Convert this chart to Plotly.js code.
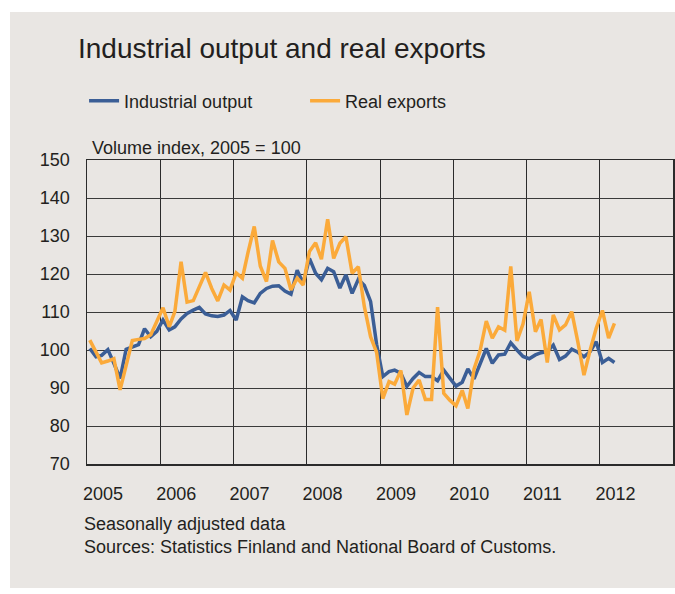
<!DOCTYPE html>
<html>
<head>
<meta charset="utf-8">
<script src="https://cdn.plot.ly/plotly-3.0.1.min.js"></script>
<style>
  html, body { margin: 0; padding: 0; background: #ffffff; }
  #chart { width: 675px; height: 594px; }
</style>
</head>
<body>
<div id="chart"></div>
<script>
// Monthly data, Jan 2005 – Mar 2012 (volume index, 2005 = 100)
const startYear = 2005;
const industrialOutput = [
  100.4, 98.2, 98.6, 100.1, 96.5, 92.5, 100.2, 100.9, 101.4, 105.6, 103.5, 104.9,
  107.9, 105.3, 106.1, 108.2, 109.6, 110.5, 111.2, 109.5, 109.0, 108.8, 109.2, 110.4,
  107.9, 114.0, 113.0, 112.4, 114.9, 116.2, 116.8, 116.9, 115.5, 114.7, 121.0, 117.6,
  124.1, 120.2, 118.5, 121.5, 120.6, 116.3, 119.8, 114.9, 118.6, 117.0, 112.8, 101.5,
  93.0, 94.3, 94.7, 93.9, 90.4, 92.5, 94.1, 93.0, 93.0, 91.9, 94.7, 92.6,
  90.5, 91.5, 95.0, 92.4, 96.5, 100.4, 96.5, 98.7, 98.9, 101.9, 100.0, 98.3,
  97.7, 98.7, 99.3, 99.6, 101.3, 97.5, 98.4, 100.2, 99.4, 98.2, 99.6, 102.2,
  96.7, 97.8, 96.7
];
const realExports = [
  102.6, 99.2, 96.6, 97.1, 97.7, 89.5, 96.0, 102.5, 102.8, 103.0, 104.0, 107.4,
  111.1, 106.1, 110.1, 123.2, 112.6, 113.0, 116.8, 120.4, 116.2, 112.9, 117.1, 115.8,
  120.3, 118.9, 125.7, 132.5, 122.1, 118.0, 128.8, 123.2, 121.5, 115.8, 118.9, 117.1,
  125.9, 128.2, 123.9, 134.4, 124.1, 128.1, 129.8, 120.2, 121.9, 111.4, 103.5, 99.4,
  87.2, 91.7, 91.0, 94.6, 82.9, 90.0, 92.1, 87.0, 87.0, 111.3, 88.6, 86.8,
  85.3, 89.4, 84.6, 95.0, 99.8, 107.6, 103.1, 106.1, 105.2, 122.0, 102.4, 106.8,
  115.3, 104.8, 108.0, 96.7, 109.2, 105.3, 106.6, 110.1, 102.0, 93.4, 100.0, 105.7,
  110.4, 103.1, 107.0
];
const yearTicks = ['2005', '2006', '2007', '2008', '2009', '2010', '2011', '2012'];
const yTicks = [70, 80, 90, 100, 110, 120, 130, 140, 150];

// mid-month dates for each observation
const months = industrialOutput.map((_, i) => {
  const y = startYear + Math.floor(i / 12);
  const m = (i % 12) + 1;
  return y + '-' + (m < 10 ? '0' + m : m) + '-15';
});

const FONT = 'Liberation Sans, Arial, sans-serif';
const TXT = '#231f20';
const BG = '#e9e6e3';

const traces = [
  { x: months, y: industrialOutput, type: 'scatter', mode: 'lines', name: 'Industrial output',
    line: { color: '#3b5e96', width: 3.5 } },
  { x: months, y: realExports, type: 'scatter', mode: 'lines', name: 'Real exports',
    line: { color: '#fbaa3a', width: 3.5 } }
];

const layout = {
  width: 675, height: 594,
  margin: { l: 87, r: 2, t: 160, b: 130 },
  paper_bgcolor: '#ffffff',
  plot_bgcolor: BG,
  font: { family: FONT, size: 18, color: TXT },
  title: { text: 'Industrial output and real exports', x: 78 / 675, xanchor: 'left', xref: 'container',
           y: 1 - 48 / 594, yanchor: 'middle', yref: 'container',
           font: { family: FONT, size: 28, color: TXT } },
  showlegend: true,
  legend: { orientation: 'h', x: -0.005, xanchor: 'left', y: 1.255, yanchor: 'top',
            bgcolor: 'rgba(0,0,0,0)', font: { size: 18, color: TXT },
            entrywidth: 176, entrywidthmode: 'pixels', itemwidth: 30 },
  xaxis: {
    type: 'date', range: ['2005-01-01', '2013-01-01'],
    tickvals: yearTicks.map(y => y + '-01-01'), ticktext: yearTicks,
    showgrid: true, gridcolor: '#2b2b2b', gridwidth: 1,
    showline: true, linecolor: '#2b2b2b', linewidth: 1.5, mirror: true,
    ticks: '', ticklabelshift: 16, ticklabelstandoff: 13,
    zeroline: false, fixedrange: true
  },
  yaxis: {
    range: [70, 150], tickvals: yTicks,
    showgrid: true, gridcolor: '#3a3a3a', gridwidth: 1,
    showline: true, linecolor: '#2b2b2b', linewidth: 1.5, mirror: true,
    ticks: '', ticklabelstandoff: 12, zeroline: false, fixedrange: true
  },
  shapes: [
    { type: 'rect', xref: 'paper', yref: 'paper', layer: 'below',
      x0: (10 - 87) / 586, x1: (675 - 87) / 586, y0: (464 - 588) / 304, y1: (464 - 12) / 304,
      fillcolor: BG, line: { width: 0 } }
  ],
  annotations: [
    { text: 'Volume index, 2005 = 100', xref: 'paper', yref: 'paper',
      x: (90 - 87) / 586, xanchor: 'left', y: (464 - 148) / 304, yanchor: 'middle',
      showarrow: false, font: { size: 18, color: TXT } },
    { text: 'Seasonally adjusted data', xref: 'paper', yref: 'paper',
      x: (82 - 87) / 586, xanchor: 'left', y: (464 - 524) / 304, yanchor: 'middle',
      showarrow: false, font: { size: 18, color: TXT } },
    { text: 'Sources: Statistics Finland and National Board of Customs.', xref: 'paper', yref: 'paper',
      x: (82 - 87) / 586, xanchor: 'left', y: (464 - 547) / 304, yanchor: 'middle',
      showarrow: false, font: { size: 18, color: TXT } }
  ]
};

Plotly.newPlot('chart', traces, layout, { displayModeBar: false, staticPlot: true });
</script>
</body>
</html>
